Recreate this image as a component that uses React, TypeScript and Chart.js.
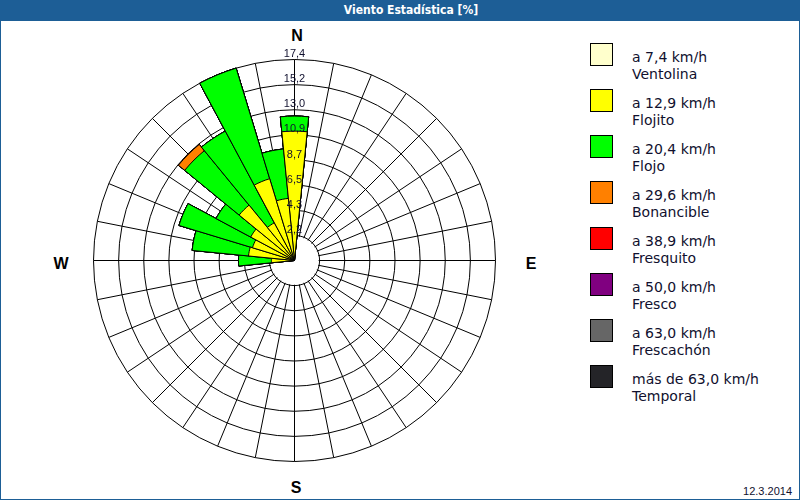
import { useEffect, useRef } from 'react';
import { Chart, registerables } from 'chart.js';

Chart.register(...registerables);

// 32 compass directions, clockwise from North
const DIRECTIONS = [
  'N', 'NbE', 'NNE', 'NEbN', 'NE', 'NEbE', 'ENE', 'EbN',
  'E', 'EbS', 'ESE', 'SEbE', 'SE', 'SEbS', 'SSE', 'SbE',
  'S', 'SbW', 'SSW', 'SWbS', 'SW', 'SWbW', 'WSW', 'WbS',
  'W', 'WbN', 'WNW', 'NWbW', 'NW', 'NWbN', 'NNW', 'NbW',
];

// frequency [%] per speed band and direction (same order as DIRECTIONS)
const VENTOLINA = [
  0, 0, 0, 0, 0, 0, 0, 0,
  0, 0, 0, 0, 0, 0, 0, 0,
  0, 0, 0, 0, 0, 0, 0, 0,
  0, 0, 0, 0, 0, 0, 0, 0,
];
const FLOJITO = [
  11.2, 0, 0, 0, 0, 0, 0, 0,
  0, 0, 0, 0, 0, 0, 0, 0,
  0, 0, 0, 0, 0, 0, 0, 0,
  2.0, 4.0, 3.8, 4.3, 6.2, 3.7, 7.4, 5.4,
];
const FLOJO = [
  1.3, 0, 0, 0, 0, 0, 0, 0,
  0, 0, 0, 0, 0, 0, 0, 0,
  0, 0, 0, 0, 0, 0, 0, 0,
  2.85, 4.9, 6.65, 3.4, 6.1, 9.0, 10.0, 4.3,
];
const BONANCIBLE = [
  0, 0, 0, 0, 0, 0, 0, 0,
  0, 0, 0, 0, 0, 0, 0, 0,
  0, 0, 0, 0, 0, 0, 0, 0,
  0, 0, 0, 0, 0.7, 0, 0, 0,
];
const FRESQUITO = [
  0, 0, 0, 0, 0, 0, 0, 0,
  0, 0, 0, 0, 0, 0, 0, 0,
  0, 0, 0, 0, 0, 0, 0, 0,
  0, 0, 0, 0, 0, 0, 0, 0,
];
const FRESCO = [
  0, 0, 0, 0, 0, 0, 0, 0,
  0, 0, 0, 0, 0, 0, 0, 0,
  0, 0, 0, 0, 0, 0, 0, 0,
  0, 0, 0, 0, 0, 0, 0, 0,
];
const FRESCACHON = [
  0, 0, 0, 0, 0, 0, 0, 0,
  0, 0, 0, 0, 0, 0, 0, 0,
  0, 0, 0, 0, 0, 0, 0, 0,
  0, 0, 0, 0, 0, 0, 0, 0,
];
const TEMPORAL = [
  0, 0, 0, 0, 0, 0, 0, 0,
  0, 0, 0, 0, 0, 0, 0, 0,
  0, 0, 0, 0, 0, 0, 0, 0,
  0, 0, 0, 0, 0, 0, 0, 0,
];

const BAND_VALUES = [VENTOLINA, FLOJITO, FLOJO, BONANCIBLE, FRESQUITO, FRESCO, FRESCACHON, TEMPORAL];
const BAND_SPEEDS = [
  'a 7,4 km/h', 'a 12,9 km/h', 'a 20,4 km/h', 'a 29,6 km/h',
  'a 38,9 km/h', 'a 50,0 km/h', 'a 63,0 km/h', 'más de 63,0 km/h',
];
const BAND_NAMES = ['Ventolina', 'Flojito', 'Flojo', 'Bonancible', 'Fresquito', 'Fresco', 'Frescachón', 'Temporal'];
const BAND_COLORS = ['#ffffcc', '#ffff00', '#00ff00', '#ff8000', '#ff0000', '#800080', '#666666', '#242428'];

const SCALE_MAX = 17.4;
const TICK_LABELS = ['2,2', '4,3', '6,5', '8,7', '10,9', '13,0', '15,2', '17,4'];
const TICK_VALUES = TICK_LABELS.map((_, k) => ((k + 1) * SCALE_MAX) / TICK_LABELS.length);

const TITLE = 'Viento Estadística [%]';
const DATE_TEXT = '12.3.2014';
const FRAME = '#1d5e96';
const INK = '#10102e';

// cumulative table for stacked rose (drawn largest first, smallest on top)
function cumulative(): number[][] {
  const out: number[][] = [];
  BAND_VALUES.forEach((vals, b) => {
    out.push(vals.map((v, i) => (b === 0 ? v : out[b - 1][i] + v)));
  });
  return out;
}

const roseDecor = {
  id: 'roseDecor',
  beforeDraw(chart: any) {
    chart.ctx.save();
    chart.ctx.translate(0.5, 0.5);
  },
  beforeDatasetsDraw(chart: any) {
    const s = chart.scales.rGrid;
    const ctx = chart.ctx;
    ctx.save();
    ctx.beginPath();
    ctx.arc(s.xCenter, s.yCenter, s.getDistanceFromCenterForValue(TICK_VALUES[0]) - 1, 0, Math.PI * 2);
    ctx.fillStyle = '#ffffff';
    ctx.fill();
    ctx.restore();
  },
  afterDatasetsDraw(chart: any) {
    const s = chart.scales.rGrid;
    const ctx = chart.ctx;
    ctx.save();
    ctx.font = '11px "Liberation Sans", Arial, sans-serif';
    ctx.fillStyle = INK;
    ctx.textAlign = 'center';
    ctx.textBaseline = 'middle';
    TICK_LABELS.forEach((t, k) => {
      const d = s.getDistanceFromCenterForValue(TICK_VALUES[k]);
      ctx.fillText(t, s.xCenter, s.yCenter - d - 5.5);
    });
    ctx.restore();
  },
  afterDraw(chart: any) {
    chart.ctx.restore();
  },
};

export default function App() {
  const ref = useRef<HTMLCanvasElement>(null);

  useEffect(() => {
    if (!ref.current) return;
    const cum = cumulative();
    const chart = new Chart(ref.current, {
      type: 'polarArea',
      data: {
        labels: DIRECTIONS,
        datasets: cum.map((vals, b) => ({
          label: BAND_NAMES[b],
          data: vals,
          rAxisID: 'r',
          backgroundColor: BAND_COLORS[b],
          borderColor: '#000000',
          borderWidth: 1,
        })) as any,
      },
      options: {
        responsive: false,
        maintainAspectRatio: false,
        animation: false,
        events: [],
        layout: { padding: 10 },
        plugins: {
          legend: { display: false },
          tooltip: { enabled: false },
        },
        scales: {
          r: {
            type: 'radialLinear',
            axis: 'r',
            display: false,
            min: 0,
            max: SCALE_MAX,
            startAngle: -360 / DIRECTIONS.length / 2,
          },
          rGrid: {
            type: 'radialLinear',
            axis: 'r',
            display: true,
            min: 0,
            max: SCALE_MAX,
            startAngle: 0,
            ticks: { display: false },
            afterBuildTicks: (s: any) => {
              s.ticks = [0, ...TICK_VALUES].map((v) => ({ value: v }));
            },
            grid: { display: true, circular: true, color: '#000000', lineWidth: 1 },
            angleLines: { display: true, color: '#000000', lineWidth: 1 },
            pointLabels: { display: false },
          },
        } as any,
      },
      plugins: [roseDecor],
    } as any);
    return () => chart.destroy();
  }, []);

  const compass = [
    { t: 'N', x: 297, y: 36 },
    { t: 'E', x: 531, y: 264 },
    { t: 'S', x: 296, y: 488 },
    { t: 'W', x: 61, y: 264 },
  ];

  return (
    <div
      style={{
        position: 'absolute',
        left: 0,
        top: 0,
        width: 800,
        height: 500,
        background: '#ffffff',
        overflow: 'hidden',
      }}
    >
      <div
        style={{
          position: 'absolute',
          left: 0,
          top: 0,
          width: 800,
          height: 500,
          boxSizing: 'border-box',
          border: `1px solid ${FRAME}`,
        }}
      />
      <div
        style={{
          position: 'absolute',
          left: 0,
          top: 0,
          width: 800,
          height: 21,
          boxSizing: 'border-box',
          paddingLeft: 22,
          background: FRAME,
          color: '#ffffff',
          font: 'bold 12px "Liberation Sans Narrow", "DejaVu Sans Condensed", "Liberation Sans", sans-serif',
          lineHeight: '21px',
          textAlign: 'center',
          whiteSpace: 'nowrap',
        }}
      >
        {TITLE}
      </div>
      <canvas
        ref={ref}
        width={423}
        height={423}
        style={{ position: 'absolute', left: 83, top: 49, width: 423, height: 423 }}
      />
      {compass.map((c) => (
        <div
          key={c.t}
          style={{
            position: 'absolute',
            left: c.x,
            top: c.y,
            transform: 'translate(-50%, -50%)',
            font: 'bold 16px "Liberation Sans", Arial, sans-serif',
            lineHeight: '16px',
            color: '#000000',
          }}
        >
          {c.t}
        </div>
      ))}
      {BAND_SPEEDS.map((s, k) => (
        <div key={s}>
          <div
            style={{
              position: 'absolute',
              left: 590,
              top: 43 + 46 * k,
              width: 23,
              height: 23,
              boxSizing: 'border-box',
              border: '1px solid #000000',
              background: BAND_COLORS[k],
            }}
          />
          <div
            style={{
              position: 'absolute',
              left: 632,
              top: 48.6 + 46 * k,
              font: '14px "DejaVu Sans", sans-serif',
              lineHeight: '17px',
              color: INK,
              whiteSpace: 'nowrap',
            }}
          >
            <div>{s}</div>
            <div>{BAND_NAMES[k]}</div>
          </div>
        </div>
      ))}
      <div
        style={{
          position: 'absolute',
          right: 8,
          top: 484.7,
          font: '11px "Liberation Sans", Arial, sans-serif',
          lineHeight: '13px',
          color: INK,
        }}
      >
        {DATE_TEXT}
      </div>
    </div>
  );
}
